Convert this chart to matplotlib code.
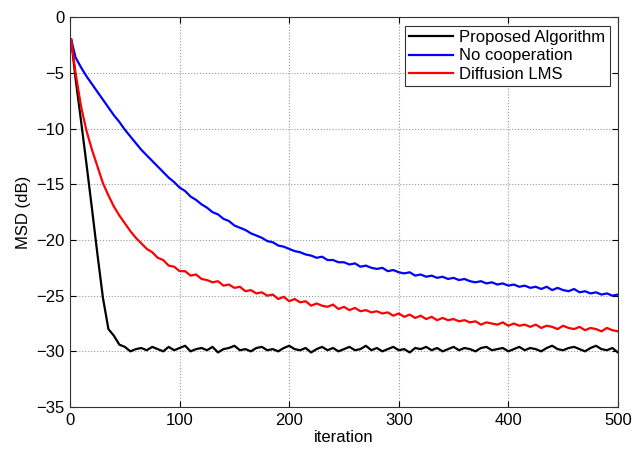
import matplotlib.pyplot as plt

plt.rcParams['font.family'] = ['Liberation Sans', 'DejaVu Sans']

# iteration index of each sample
iters = [1] + list(range(5, 501, 5))

proposed = [
    -2.0,
    -5.5, -9.3, -13.2, -17.2, -21.3, -25.2, -28.0, -28.6, -29.4, -29.6,
    -30.0, -29.8, -29.7, -29.9, -29.6, -29.8, -30.0, -29.6, -29.9, -29.7,
    -29.5, -30.0, -29.8, -29.7, -29.9, -29.6, -30.1, -29.8, -29.7, -29.5,
    -29.9, -29.8, -30.0, -29.7, -29.6, -29.9, -29.8, -30.0, -29.7, -29.5,
    -29.8, -29.9, -29.7, -30.1, -29.8, -29.6, -29.9, -29.7, -30.0, -29.8,
    -29.6, -29.9, -29.8, -29.5, -29.9, -29.7, -30.0, -29.8, -29.6, -29.9,
    -29.8, -30.1, -29.7, -29.8, -29.6, -29.9, -29.7, -30.0, -29.8, -29.6,
    -29.9, -29.7, -29.8, -30.0, -29.7, -29.6, -29.9, -29.8, -29.7, -30.0,
    -29.8, -29.6, -29.9, -29.7, -29.8, -30.0, -29.7, -29.5, -29.8, -29.9,
    -29.7, -29.6, -29.8, -30.0, -29.7, -29.5, -29.8, -29.9, -29.7, -30.1,
]

no_coop = [
    -2.0,
    -3.6, -4.5, -5.3, -6.0, -6.7, -7.4, -8.1, -8.8, -9.4, -10.1,
    -10.7, -11.3, -11.9, -12.4, -12.9, -13.4, -13.9, -14.4, -14.8, -15.3,
    -15.6, -16.1, -16.4, -16.8, -17.1, -17.5, -17.7, -18.1, -18.3, -18.7,
    -18.9, -19.1, -19.4, -19.6, -19.8, -20.1, -20.2, -20.5, -20.6, -20.8,
    -21.0, -21.1, -21.3, -21.4, -21.6, -21.5, -21.8, -21.8, -22.0, -22.0,
    -22.2, -22.1, -22.4, -22.3, -22.5, -22.6, -22.5, -22.8, -22.7, -22.9,
    -23.0, -22.9, -23.2, -23.1, -23.3, -23.2, -23.4, -23.3, -23.5, -23.4,
    -23.6, -23.5, -23.7, -23.8, -23.7, -23.9, -23.8, -24.0, -23.9, -24.1,
    -24.0, -24.2, -24.1, -24.3, -24.2, -24.4, -24.2, -24.5, -24.3, -24.5,
    -24.6, -24.4, -24.7, -24.6, -24.8, -24.7, -24.9, -24.8, -25.0, -24.9,
]

diffusion = [
    -2.0,
    -5.0, -8.0, -10.2, -11.9, -13.4, -14.9, -16.0, -17.0, -17.8, -18.5,
    -19.2, -19.8, -20.3, -20.8, -21.1, -21.6, -21.8, -22.3, -22.4, -22.8,
    -22.8, -23.2, -23.1, -23.5, -23.6, -23.8, -23.7, -24.1, -24.0, -24.3,
    -24.2, -24.6, -24.5, -24.8, -24.7, -25.0, -24.9, -25.3, -25.1, -25.5,
    -25.3, -25.6, -25.5, -25.9, -25.7, -25.9, -26.0, -25.8, -26.2, -26.0,
    -26.3, -26.1, -26.4, -26.3, -26.5, -26.4, -26.6, -26.5, -26.8, -26.6,
    -26.9, -26.7, -27.0, -26.8, -27.1, -26.9, -27.2, -27.0, -27.2, -27.1,
    -27.3, -27.2, -27.4, -27.3, -27.6, -27.4, -27.5, -27.6, -27.4, -27.7,
    -27.5, -27.7, -27.6, -27.8, -27.6, -27.9, -27.7, -27.8, -28.0, -27.7,
    -27.9, -28.0, -27.8, -28.1, -27.9, -28.0, -28.2, -27.9, -28.1, -28.2,
]

fig = plt.figure(figsize=(6.37, 4.49), dpi=100)
ax = fig.add_axes([0.110, 0.0935, 0.860, 0.868])

ax.plot(iters, proposed, color='black', lw=1.6, label='Proposed Algorithm')
ax.plot(iters, no_coop, color='blue', lw=1.6, label='No cooperation')
ax.plot(iters, diffusion, color='red', lw=1.6, label='Diffusion LMS')

ax.set_xlim(0, 500)
ax.set_ylim(-35, 0)
ax.set_xticks(range(0, 501, 100))
ax.set_yticks(range(-35, 1, 5))
ax.tick_params(direction='in', top=True, right=True, labelsize=12, length=4, pad=4)
ax.grid(True, linestyle=':', color='#999999', linewidth=0.8)
for s in ax.spines.values():
    s.set_color('#333333')

ax.set_xlabel('iteration', fontsize=12, labelpad=2)
ax.set_ylabel('MSD (dB)', fontsize=12, labelpad=4)

leg = ax.legend(loc='upper right', fontsize=12, fancybox=False, framealpha=1,
                edgecolor='#333333', handlelength=2.6, borderaxespad=0.5,
                borderpad=0.25, labelspacing=0.22, handletextpad=0.4)
leg.get_frame().set_linewidth(0.8)

fig.savefig('out.png', dpi=100)
